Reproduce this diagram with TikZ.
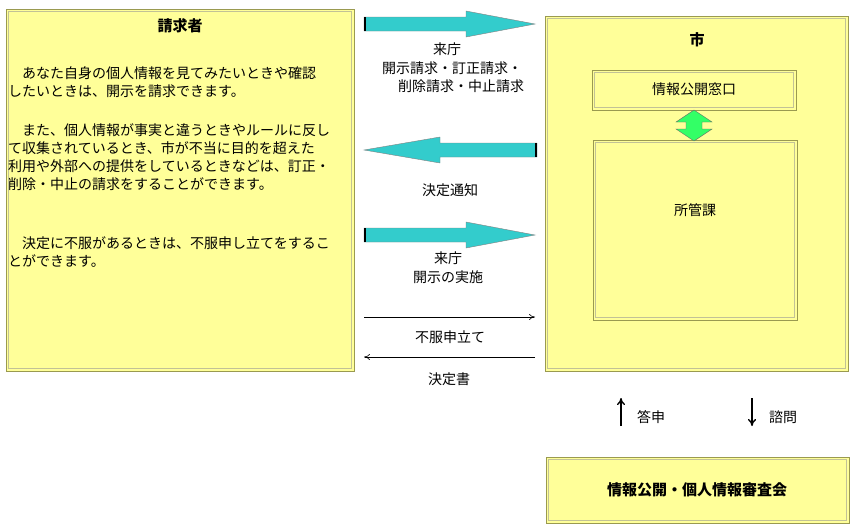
\documentclass[tikz,border=0pt]{standalone}
\usepackage{fontspec}
\setmainfont{Noto Sans CJK JP}
\usetikzlibrary{arrows.meta}
\definecolor{byel}{HTML}{FFFF99}
\definecolor{bedge}{HTML}{9A9A50}
\definecolor{teal2}{HTML}{33CCCC}
\definecolor{grn}{HTML}{33FF66}
\newcommand{\ybx}[4]{\fill[byel] (#1,#2) rectangle (#3,#4);
 \draw[bedge,line width=0.8pt] (#1,#2) rectangle (#3,#4);
 \draw[bedge!60,line width=0.6pt] (#1+2.5,#2+2.5) rectangle (#3-2.5,#4-2.5);}
\begin{document}
\begin{tikzpicture}[x=1pt,y=-1pt,font=\fontsize{14}{17}\selectfont,
 txt/.style={inner sep=0pt,anchor=base west},
 lbl/.style={inner sep=0pt},
 thin/.style={-{To[length=6pt,width=6pt]},line width=0.6pt}]
\useasboundingbox (0,0) rectangle (854,528);
\fill[white] (0,0) rectangle (854,528);
\ybx{6}{9}{354}{371}
\node[lbl,font=\fontsize{15}{17}\selectfont\bfseries] (reqt) at (180,26) {請求者};
\foreach \t/\y in {{　あなた自身の個人情報を見てみたいときや確認}/78,{したいときは、開示を請求できます。}/96,
 {　また、個人情報が事実と違うときやルールに反し}/135,{て収集されているとき、市が不当に目的を超えた}/153,
 {利用や外部への提供をしているときなどは、訂正・}/171,{削除・中止の請求をすることができます。}/189,
 {　決定に不服があるときは、不服申し立てをするこ}/248,{とができます。}/266}
 \node[txt] at (8,\y) {\t};
\ybx{545}{16}{848}{371}
\node[lbl,font=\fontsize{15}{17}\selectfont\bfseries] (city) at (697,40) {市};
\ybx{592}{70}{796}{110}
\node[lbl] (win) at (694,89) {情報公開窓口};
\ybx{593}{140}{797}{320}
\node[lbl] (dept) at (695,210) {所管課};
\ybx{546}{457}{849}{523}
\node[lbl,font=\fontsize{15}{17}\selectfont\bfseries] (comm) at (697,490) {情報公開・個人情報審査会};
% green double arrow
\fill[grn,draw=black!60,line width=0.4pt] (694,110) -- (712,122) -- (702,122) -- (702,129) -- (712,129) -- (694,141) -- (676,129) -- (686,129) -- (686,122) -- (676,122) -- cycle;
% teal arrows
\foreach \y in {24,235}{
 \fill[teal2,draw=black!50,line width=0.4pt] (364,\y-7) -- (466,\y-7) -- (466,\y-13) -- (535,\y) -- (466,\y+13) -- (466,\y+7) -- (364,\y+7) -- cycle;
 \draw[line width=2pt] (365,\y-7) -- (365,\y+7);}
\fill[teal2,draw=black!50,line width=0.4pt] (537,143) -- (440,143) -- (440,137) -- (364,150) -- (440,163) -- (440,157) -- (537,157) -- cycle;
\draw[line width=2pt] (536,143) -- (536,157);
\node[lbl] (a1) at (447,49) {来庁};
\node[lbl] (a2) at (452,68) {開示請求・訂正請求・};
\node[lbl] (a3) at (461,86) {削除請求・中止請求};
\node[lbl] (b1) at (450,190) {決定通知};
\node[lbl] (c1) at (448,258) {来庁};
\node[lbl] (c2) at (448,277) {開示の実施};
\coordinate (p1) at (364,317); \coordinate (p2) at (535,317);
\coordinate (q1) at (535,357); \coordinate (q2) at (364,357);
\draw[thin] (p1) -- (p2);
\draw[thin] (q1) -- (q2);
\node[lbl] (d1) at (450,337) {不服申立て};
\node[lbl] (d2) at (449,379) {決定書};
\coordinate (u1) at (621,426); \coordinate (u2) at (621,398);
\coordinate (v1) at (752,398); \coordinate (v2) at (752,426);
\draw[-{To[length=7pt,width=8pt]},line width=1.4pt] (u1) -- (u2);
\draw[-{To[length=7pt,width=8pt]},line width=1.4pt] (v1) -- (v2);
\node[lbl] (e1) at (651,417) {答申};
\node[lbl] (e2) at (783,417) {諮問};
\end{tikzpicture}
\end{document}
